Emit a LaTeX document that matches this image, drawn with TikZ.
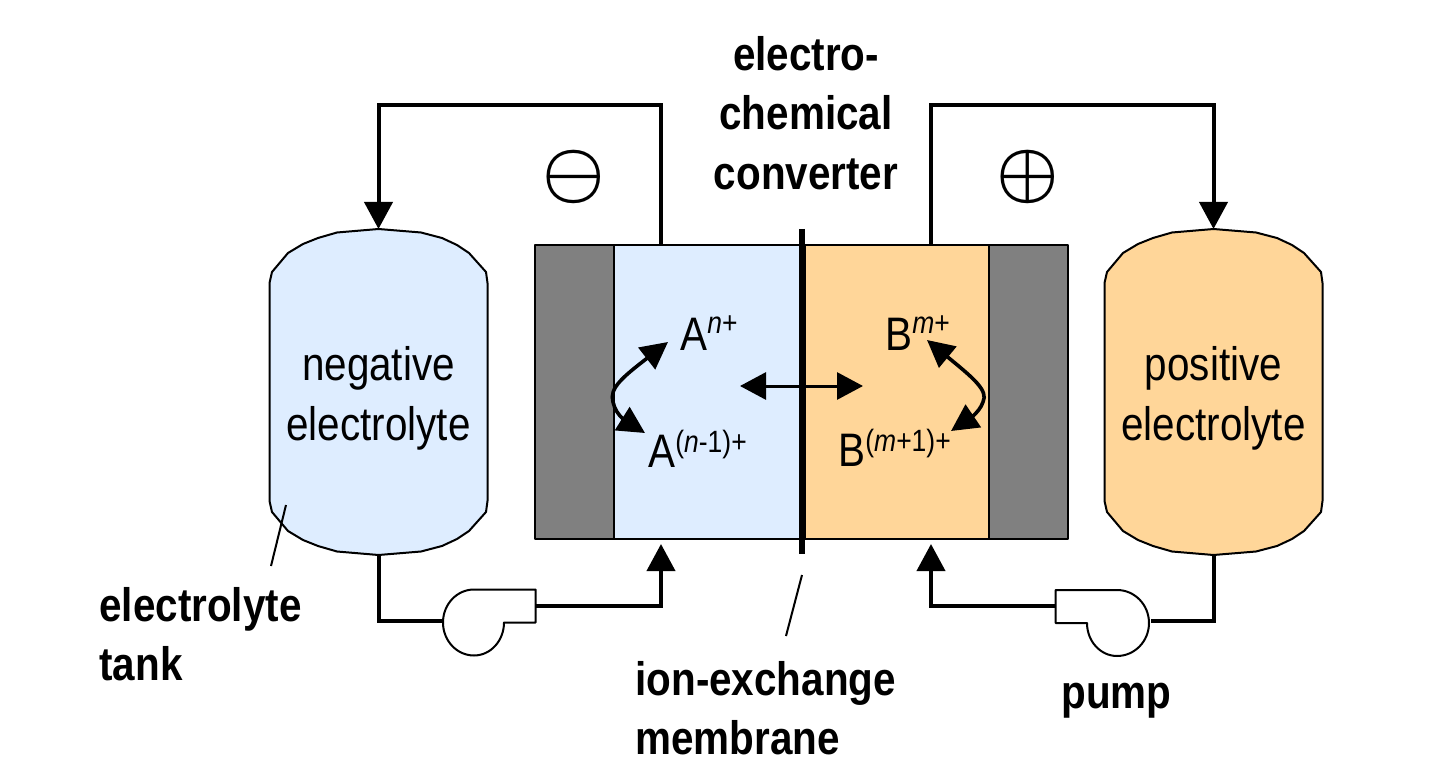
\documentclass[tikz,border=0pt]{standalone}
\usepackage{fontspec}
\setmainfont[FakeStretch=0.86]{Liberation Sans}
\usetikzlibrary{arrows.meta,bending}
\definecolor{elblue}{HTML}{DEEDFF}
\definecolor{elorange}{HTML}{FFD699}
\definecolor{elgray}{HTML}{808080}
\newcommand{\supt}[2]{\raisebox{#1}{\fontsize{15.4}{16}\selectfont #2}}
\tikzset{
  x=0.5pt,y=-0.5pt,
  outline/.style={draw=black,line width=1pt,line join=round},
  cellpart/.style={outline,inner sep=0pt,outer sep=0pt,minimum height=147pt,anchor=north west},
  wire/.style={line width=2pt,line join=miter,-{Triangle[length=13.5pt,width=14pt]}},
  plainwire/.style={line width=2pt,line join=miter},
  react/.style={line width=1.8pt,{Triangle[length=13.5pt,width=13.5pt,flex=1]}-{Triangle[length=13.5pt,width=13.5pt,flex=1]}},
  ionarrow/.style={line width=1.5pt,{Triangle[length=13pt,width=13.5pt]}-{Triangle[length=13pt,width=13.5pt]}},
  leader/.style={line width=1pt},
  normaltext/.style={font=\fontsize{23.5}{28}\selectfont,inner sep=0pt,align=center},
  boldtext/.style={font=\fontsize{23.5}{28}\selectfont\bfseries,inner sep=0pt},
  ion/.style={font=\fontsize{23.5}{28}\selectfont,inner sep=0pt,anchor=base west},
  polarity/.style={scale=3.5,inner sep=0pt,font=\boldmath}
}
\begin{document}
\begin{tikzpicture}
\useasboundingbox (0,0) rectangle (1447,781);
% tanks
\newcommand{\tank}[2]{%
 \begin{scope}[xshift=#1*0.5pt]
 \draw[outline,fill=#2] (269.5,283) -- (272,272) -- (288,253) -- (303,244) -- (318,238) -- (337,232.5) -- (378.5,229) -- (421,232.5) -- (442,238) -- (457,245) -- (469,253) -- (486,272) -- (487.5,283)
   -- (487.5,501) -- (486,512) -- (469,531) -- (457,539) -- (442,546) -- (421,551.5) -- (378.5,555) -- (337,551.5) -- (318,546) -- (303,540) -- (288,531) -- (272,512) -- (269.5,501) -- cycle;
 \end{scope}}
\tank{0}{elblue}
\tank{835}{elorange}
\coordinate (ntop) at (378.5,229);
\coordinate (nbot) at (378.5,555);
\coordinate (ptop) at (1213.5,229);
\coordinate (pbot) at (1213.5,555);
% cell
\node[cellpart,fill=elgray,minimum width=39.5pt] (gl) at (535,245) {};
\node[cellpart,fill=elblue,minimum width=94pt] (bl) at (614,245) {};
\node[cellpart,fill=elorange,minimum width=92pt] (or) at (805,245) {};
\node[cellpart,fill=elgray,minimum width=39.5pt] (gr) at (989,245) {};
\coordinate (mt) at (802,229);
\coordinate (mb) at (802,554);
\draw[line width=2.6pt] (mt) -- (mb);
% pumps
\draw[outline,fill=white] (535.5,589.5) -- (474,589.5) arc[start angle=90,end angle=270,x radius=15.5pt,y radius=16.5pt] arc[start angle=270,end angle=360,x radius=15pt,y radius=16.5pt] -- (535.5,622.5) -- cycle;
\draw[outline,fill=white] (1055.5,590) -- (1117,590) arc[start angle=90,end angle=-90,x radius=16pt,y radius=16.5pt] arc[start angle=270,end angle=180,x radius=15pt,y radius=16.5pt] -- (1055.5,623) -- cycle;
\coordinate (pl-in) at (443,621);
\coordinate (pl-out) at (535.5,606);
\coordinate (pr-in) at (1150.5,621);
\coordinate (pr-out) at (1055.5,606);
% wires
\coordinate (an) at (661,245);
\coordinate (ap) at (931,245);
\coordinate (inl) at (661,544);
\coordinate (inr) at (931,544);
\draw[wire] (an) -- (an |- 0,105) -- (ntop |- 0,105) -- (ntop);
\draw[wire] (ap) -- (ap |- 0,105) -- (ptop |- 0,105) -- (ptop);
\draw[plainwire] (nbot) -- (pl-in -| nbot) -- (pl-in);
\draw[plainwire] (pbot) -- (pr-in -| pbot) -- (pr-in);
\draw[wire] (pl-out) -- (pl-out -| inl) -- (inl);
\draw[wire] (pr-out) -- (pr-out -| inr) -- (inr);
% ions
\node[ion] (an1) at (680,350) {A\supt{8.5pt}{\itshape n\upshape +}};
\node[ion] (an2) at (648,467) {A\supt{7.5pt}{(\itshape n\upshape -1)+}};
\node[ion] (bm1) at (885,350) {B\supt{8.5pt}{\itshape m\upshape +}};
\node[ion] (bm2) at (838,466) {B\supt{7.5pt}{(\itshape m\upshape +1)+}};
\coordinate (a1) at (668,342);
\coordinate (a2) at (645,433);
\coordinate (b1) at (927,340);
\coordinate (b2) at (951,431);
\draw[react] (a1) .. controls (630,372) and (608,385) .. (613,402) .. controls (616,416) and (628,425) .. (a2);
\draw[react] (b1) .. controls (965,372) and (990,388) .. (983,402) .. controls (979,414) and (965,423) .. (b2);
\coordinate (il) at (740,386);
\coordinate (ir) at (863,386);
\draw[ionarrow] (il) -- (ir);
% leaders
\coordinate (l1) at (286,505);
\coordinate (l2) at (271,566);
\coordinate (m1) at (802,575);
\coordinate (m2) at (786,636);
\draw[leader] (l1) -- (l2);
\draw[leader] (m1) -- (m2);
% text
\node[normaltext,anchor=base] (tn) at (378.5,380) {negative};
\node[normaltext,anchor=base] (tn2) at (378.5,440) {electrolyte};
\node[normaltext,anchor=base] (tp) at (1213.5,380) {positive};
\node[normaltext,anchor=base] (tp2) at (1213.5,440) {electrolyte};
\node[boldtext,anchor=base] (c1) at (806,71) {electro-};
\node[boldtext,anchor=base] (c2) at (806,130) {chemical};
\node[boldtext,anchor=base] (c3) at (806,190) {converter};
\node[boldtext,anchor=base west] (e1) at (99,621) {electrolyte};
\node[boldtext,anchor=base west] (e2) at (99,680) {tank};
\node[boldtext,anchor=base west] (i1) at (635,695) {ion-exchange};
\node[boldtext,anchor=base west] (i2) at (635,754) {membrane};
\node[boldtext,anchor=base west] (pu) at (1061,708) {pump};
\node[polarity] (minus) at (574,177) {$\ominus$};
\node[polarity] (plus) at (1028,177) {$\oplus$};
\end{tikzpicture}
\end{document}
